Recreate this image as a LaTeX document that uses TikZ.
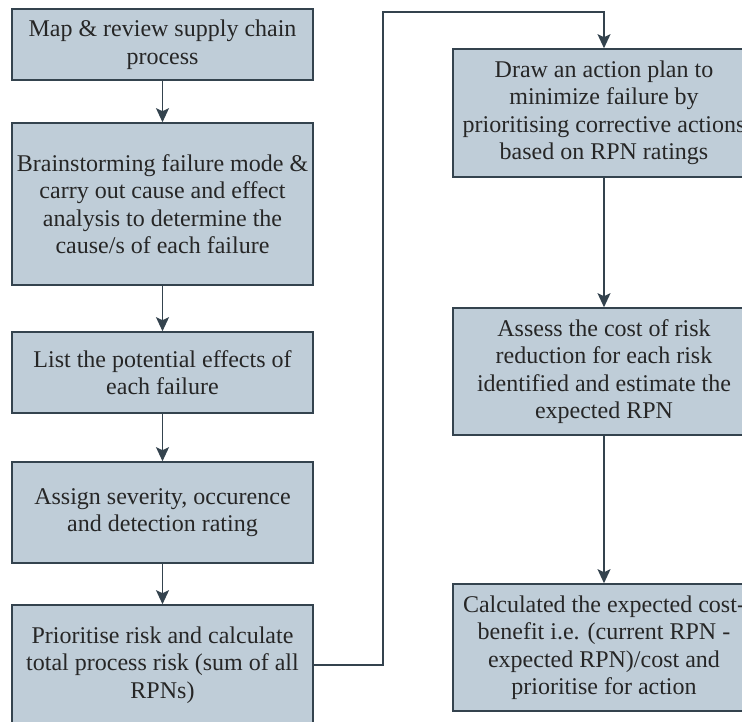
\documentclass[tikz,border=0pt]{standalone}
\usepackage{fontspec}
\newfontfamily\boxfont{LiberationSerif}[Extension=.ttf, UprightFont=*-Regular]
\usetikzlibrary{arrows.meta}
\definecolor{boxfill}{HTML}{BFCDD8}
\definecolor{boxline}{HTML}{34434E}
\tikzset{
  stepbox/.style={draw=boxline, line width=1.6pt, fill=boxfill, align=center,
    inner sep=0pt, text=black!85,
    font=\boxfont\fontsize{24}{27.5}\selectfont},
  flow/.style={draw=boxline, line width=1.5pt,
    -{Stealth[length=14pt,width=13pt,inset=3pt]}},
}
\begin{document}
\begin{tikzpicture}[x=1pt,y=-1pt]
\useasboundingbox (0,0) rectangle (742,721);
\clip (0,0) rectangle (742,721);
\fill[white] (0,0) rectangle (742,721);

% left column
\node[stepbox, minimum width=301pt, minimum height=71pt]  (b1) at (162.5,44.5)
  {Map \& review supply chain\\process};
\node[stepbox, minimum width=301pt, minimum height=162pt] (b2) at (162.5,204)
  {Brainstorming failure mode \&\\carry out cause and effect\\analysis to determine the\\cause/s of each failure};
\node[stepbox, minimum width=301pt, minimum height=81pt]  (b3) at (162.5,372.5)
  {List the potential effects of\\each failure};
\node[stepbox, minimum width=301pt, minimum height=101pt] (b4) at (162.5,512.5)
  {Assign severity, occurence\\and detection rating};
\node[stepbox, minimum width=301pt, minimum height=120pt] (b5) at (162.5,665)
  {Prioritise risk and calculate\\total process risk (sum of all\\RPNs)};

% right column
\node[stepbox, minimum width=302pt, minimum height=128pt] (r1) at (604,113)
  {Draw an action plan to\\minimize failure by\\prioritising corrective actions\\based on RPN ratings};
\node[stepbox, minimum width=302pt, minimum height=127pt] (r2) at (604,371.5)
  {Assess the cost of risk\\reduction for each risk\\identified and estimate the\\expected RPN};
\node[stepbox, minimum width=302pt, minimum height=127pt] (r3) at (604,647.5)
  {Calculated the expected cost-\\benefit i.e. (current RPN -\\expected RPN)/cost and\\prioritise for action};

% connectors
\draw[flow] (b1) -- (b2);
\draw[flow] (b2) -- (b3);
\draw[flow] (b3) -- (b4);
\draw[flow] (b4) -- (b5);
\coordinate (turn) at (383,12);
\draw[flow] (b5.east) -| (turn) -| (r1.north);
\draw[flow] (r1) -- (r2);
\draw[flow] (r2) -- (r3);
\end{tikzpicture}
\end{document}
